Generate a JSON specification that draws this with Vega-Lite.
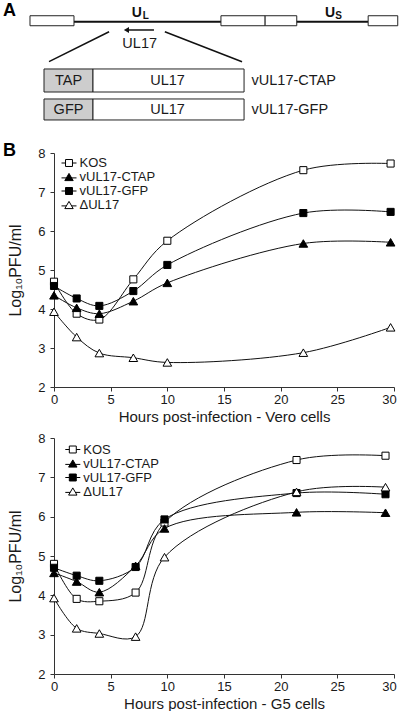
{
  "$schema": "https://vega.github.io/schema/vega-lite/v6.json",
  "padding": {"left": 2, "top": 1, "right": 0, "bottom": 0},
  "bounds": "flush",
  "spacing": 51,
  "config": {
    "font": "Liberation Sans",
    "view": {"stroke": null},
    "axis": {"grid": false, "domainColor": "#333333", "tickColor": "#333333", "tickSize": 4, "domainWidth": 1, "tickWidth": 1, "labelFontSize": 13, "labelColor": "#1a1a1a", "titleFontWeight": "normal", "titleColor": "#1a1a1a", "labelOverlap": false},
    "axisX": {"labelPadding": 2, "titleFontSize": 15, "titlePadding": 3, "labelFlush": false},
    "axisY": {"labelPadding": 5, "titleFontSize": 16, "titlePadding": 14}
  },
  "resolve": {
    "scale": {"x": "independent", "y": "independent", "fill": "independent", "shape": "independent"},
    "legend": {"fill": "independent", "shape": "independent"}
  },
  "datasets": {
    "backbone": [{"region": "genome", "start": 5.88, "end": 92.35, "pos": 2.05}],
    "zoom_lines": [
      {"from_x": 16.2, "from_y": 3.04, "to_x": -1.47, "to_y": 6.01},
      {"from_x": 32.6, "from_y": 3.04, "to_x": 55.3, "to_y": 6.01}
    ],
    "repeats": [
      {"name": "TRL", "start": -7.06, "end": 5.88},
      {"name": "IRL", "start": 49.1, "end": 62.1},
      {"name": "IRS", "start": 62.1, "end": 71.4},
      {"name": "TRS", "start": 92.4, "end": 101.1}
    ],
    "constructs": [
      {"construct": "vUL17-CTAP", "part": "tag", "start": -2.94, "end": 11.47, "top": 6.73, "bottom": 9.01},
      {"construct": "vUL17-CTAP", "part": "UL17", "start": 11.47, "end": 55.9, "top": 6.73, "bottom": 9.01},
      {"construct": "vUL17-GFP", "part": "tag", "start": -2.94, "end": 11.47, "top": 9.7, "bottom": 11.78},
      {"construct": "vUL17-GFP", "part": "UL17", "start": 11.47, "end": 55.9, "top": 9.7, "bottom": 11.78}
    ],
    "arrow": [{"gene": "UL17", "tail": 29.4, "head": 21.3, "pos": 2.87}],
    "center_labels": [
      {"text": "UL17", "x": 25.2, "y": 4.21},
      {"text": "TAP", "x": 4.27, "y": 7.9},
      {"text": "UL17", "x": 33.4, "y": 7.9},
      {"text": "GFP", "x": 4.27, "y": 10.78},
      {"text": "UL17", "x": 33.4, "y": 10.78}
    ],
    "construct_names": [
      {"text": "vUL17-CTAP", "x": 58.1, "y": 7.9},
      {"text": "vUL17-GFP", "x": 58.1, "y": 10.78}
    ],
    "regions": [
      {"text": "U", "x": 24.35, "y": 1.22},
      {"text": "U", "x": 81.2, "y": 1.22}
    ],
    "region_subs": [
      {"text": "L", "x": 27.0, "y": 1.5},
      {"text": "S", "x": 83.7, "y": 1.52}
    ],
    "panel_letters": [
      {"panel": "A", "x": -13.1, "y": 0.99},
      {"panel": "B", "x": -13.1, "y": 14.85}
    ],
    "vero": [
      {"strain": "KOS", "hours": 0, "log_pfu": 4.70},
      {"strain": "KOS", "hours": 2, "log_pfu": 3.88},
      {"strain": "KOS", "hours": 4, "log_pfu": 3.73},
      {"strain": "KOS", "hours": 7, "log_pfu": 4.76},
      {"strain": "KOS", "hours": 10, "log_pfu": 5.75},
      {"strain": "KOS", "hours": 22, "log_pfu": 7.56},
      {"strain": "KOS", "hours": 29.7, "log_pfu": 7.73},
      {"strain": "vUL17-CTAP", "hours": 0, "log_pfu": 4.35},
      {"strain": "vUL17-CTAP", "hours": 2, "log_pfu": 4.03},
      {"strain": "vUL17-CTAP", "hours": 4, "log_pfu": 3.88},
      {"strain": "vUL17-CTAP", "hours": 7, "log_pfu": 4.20},
      {"strain": "vUL17-CTAP", "hours": 10, "log_pfu": 4.67},
      {"strain": "vUL17-CTAP", "hours": 22, "log_pfu": 5.68},
      {"strain": "vUL17-CTAP", "hours": 29.7, "log_pfu": 5.71},
      {"strain": "vUL17-GFP", "hours": 0, "log_pfu": 4.59},
      {"strain": "vUL17-GFP", "hours": 2, "log_pfu": 4.27},
      {"strain": "vUL17-GFP", "hours": 4, "log_pfu": 4.08},
      {"strain": "vUL17-GFP", "hours": 7, "log_pfu": 4.46},
      {"strain": "vUL17-GFP", "hours": 10, "log_pfu": 5.13},
      {"strain": "vUL17-GFP", "hours": 22, "log_pfu": 6.46},
      {"strain": "vUL17-GFP", "hours": 29.7, "log_pfu": 6.49},
      {"strain": "ΔUL17", "hours": 0, "log_pfu": 3.93},
      {"strain": "ΔUL17", "hours": 2, "log_pfu": 3.28},
      {"strain": "ΔUL17", "hours": 4, "log_pfu": 2.87},
      {"strain": "ΔUL17", "hours": 7, "log_pfu": 2.75},
      {"strain": "ΔUL17", "hours": 10, "log_pfu": 2.63},
      {"strain": "ΔUL17", "hours": 22, "log_pfu": 2.88},
      {"strain": "ΔUL17", "hours": 29.7, "log_pfu": 3.53}
    ],
    "g5": [
      {"strain": "KOS", "hours": 0, "log_pfu": 4.80},
      {"strain": "KOS", "hours": 2, "log_pfu": 3.91},
      {"strain": "KOS", "hours": 4, "log_pfu": 3.85},
      {"strain": "KOS", "hours": 7.2, "log_pfu": 4.07},
      {"strain": "KOS", "hours": 9.75, "log_pfu": 5.85},
      {"strain": "KOS", "hours": 21.4, "log_pfu": 7.44},
      {"strain": "KOS", "hours": 29.25, "log_pfu": 7.55},
      {"strain": "vUL17-CTAP", "hours": 0, "log_pfu": 4.57},
      {"strain": "vUL17-CTAP", "hours": 2, "log_pfu": 4.35},
      {"strain": "vUL17-CTAP", "hours": 4, "log_pfu": 4.08},
      {"strain": "vUL17-CTAP", "hours": 7.2, "log_pfu": 4.75},
      {"strain": "vUL17-CTAP", "hours": 9.75, "log_pfu": 5.70},
      {"strain": "vUL17-CTAP", "hours": 21.4, "log_pfu": 6.11},
      {"strain": "vUL17-CTAP", "hours": 29.25, "log_pfu": 6.10},
      {"strain": "vUL17-GFP", "hours": 0, "log_pfu": 4.70},
      {"strain": "vUL17-GFP", "hours": 2, "log_pfu": 4.50},
      {"strain": "vUL17-GFP", "hours": 4, "log_pfu": 4.37},
      {"strain": "vUL17-GFP", "hours": 7.2, "log_pfu": 4.72},
      {"strain": "vUL17-GFP", "hours": 9.75, "log_pfu": 5.93},
      {"strain": "vUL17-GFP", "hours": 21.4, "log_pfu": 6.60},
      {"strain": "vUL17-GFP", "hours": 29.25, "log_pfu": 6.57},
      {"strain": "ΔUL17", "hours": 0, "log_pfu": 3.93},
      {"strain": "ΔUL17", "hours": 2, "log_pfu": 3.16},
      {"strain": "ΔUL17", "hours": 4, "log_pfu": 3.03},
      {"strain": "ΔUL17", "hours": 7.2, "log_pfu": 2.95},
      {"strain": "ΔUL17", "hours": 9.75, "log_pfu": 4.97},
      {"strain": "ΔUL17", "hours": 21.4, "log_pfu": 6.63},
      {"strain": "ΔUL17", "hours": 29.25, "log_pfu": 6.75}
    ]
  },
  "vconcat": [
    {
      "width": 340,
      "height": 101,
      "layer": [
        {
          "data": {"name": "backbone"},
          "mark": {"type": "rule", "color": "#111111", "strokeWidth": 2},
          "encoding": {
            "x": {"field": "start", "type": "quantitative", "scale": {"domain": [0, 100], "nice": false, "zero": false}, "axis": null},
            "x2": {"field": "end"},
            "y": {"field": "pos", "type": "quantitative", "scale": {"domain": [0, 10], "nice": false, "zero": false, "reverse": true}, "axis": null}
          }
        },
        {
          "data": {"name": "zoom_lines"},
          "mark": {"type": "rule", "color": "#111111", "strokeWidth": 1.5},
          "encoding": {
            "x": {"field": "from_x", "type": "quantitative", "scale": {"domain": [0, 100], "nice": false, "zero": false}, "axis": null},
            "x2": {"field": "to_x"},
            "y": {"field": "from_y", "type": "quantitative", "scale": {"domain": [0, 10], "nice": false, "zero": false, "reverse": true}, "axis": null},
            "y2": {"field": "to_y"}
          }
        },
        {
          "data": {"name": "repeats"},
          "mark": {"type": "rect", "fill": "#ffffff", "stroke": "#222222", "strokeWidth": 1},
          "encoding": {
            "x": {"field": "start", "type": "quantitative", "scale": {"domain": [0, 100], "nice": false, "zero": false}, "axis": null},
            "x2": {"field": "end"},
            "y": {"datum": 1.46, "type": "quantitative", "scale": {"domain": [0, 10], "nice": false, "zero": false, "reverse": true}, "axis": null},
            "y2": {"datum": 2.45}
          }
        },
        {
          "data": {"name": "constructs"},
          "mark": {"type": "rect", "stroke": "#222222", "strokeWidth": 1},
          "encoding": {
            "x": {"field": "start", "type": "quantitative", "scale": {"domain": [0, 100], "nice": false, "zero": false}, "axis": null},
            "x2": {"field": "end"},
            "y": {"field": "top", "type": "quantitative", "scale": {"domain": [0, 10], "nice": false, "zero": false, "reverse": true}, "axis": null},
            "y2": {"field": "bottom"},
            "fill": {"field": "part", "type": "nominal", "scale": {"domain": ["tag", "UL17"], "range": ["#cdcdcd", "#ffffff"]}, "legend": null}
          }
        },
        {
          "data": {"name": "arrow"},
          "mark": {"type": "rule", "color": "#111111", "strokeWidth": 1.5},
          "encoding": {
            "x": {"field": "tail", "type": "quantitative", "scale": {"domain": [0, 100], "nice": false, "zero": false}, "axis": null},
            "x2": {"field": "head"},
            "y": {"field": "pos", "type": "quantitative", "scale": {"domain": [0, 10], "nice": false, "zero": false, "reverse": true}, "axis": null}
          }
        },
        {
          "data": {"name": "arrow"},
          "mark": {"type": "point", "shape": "triangle-left", "filled": true, "color": "#111111", "opacity": 1, "size": 36},
          "encoding": {
            "x": {"field": "head", "type": "quantitative", "scale": {"domain": [0, 100], "nice": false, "zero": false}, "axis": null},
            "y": {"field": "pos", "type": "quantitative", "scale": {"domain": [0, 10], "nice": false, "zero": false, "reverse": true}, "axis": null}
          }
        },
        {
          "data": {"name": "center_labels"},
          "mark": {"type": "text", "align": "center", "baseline": "middle", "fontSize": 14.5, "color": "#1a1a1a"},
          "encoding": {
            "x": {"field": "x", "type": "quantitative", "scale": {"domain": [0, 100], "nice": false, "zero": false}, "axis": null},
            "y": {"field": "y", "type": "quantitative", "scale": {"domain": [0, 10], "nice": false, "zero": false, "reverse": true}, "axis": null},
            "text": {"field": "text"}
          }
        },
        {
          "data": {"name": "construct_names"},
          "mark": {"type": "text", "align": "left", "baseline": "middle", "fontSize": 14.5, "color": "#1a1a1a"},
          "encoding": {
            "x": {"field": "x", "type": "quantitative", "scale": {"domain": [0, 100], "nice": false, "zero": false}, "axis": null},
            "y": {"field": "y", "type": "quantitative", "scale": {"domain": [0, 10], "nice": false, "zero": false, "reverse": true}, "axis": null},
            "text": {"field": "text"}
          }
        },
        {
          "data": {"name": "regions"},
          "mark": {"type": "text", "align": "center", "baseline": "middle", "fontSize": 14, "fontWeight": "bold", "color": "#111111"},
          "encoding": {
            "x": {"field": "x", "type": "quantitative", "scale": {"domain": [0, 100], "nice": false, "zero": false}, "axis": null},
            "y": {"field": "y", "type": "quantitative", "scale": {"domain": [0, 10], "nice": false, "zero": false, "reverse": true}, "axis": null},
            "text": {"field": "text"}
          }
        },
        {
          "data": {"name": "region_subs"},
          "mark": {"type": "text", "align": "center", "baseline": "middle", "fontSize": 10, "fontWeight": "bold", "color": "#111111"},
          "encoding": {
            "x": {"field": "x", "type": "quantitative", "scale": {"domain": [0, 100], "nice": false, "zero": false}, "axis": null},
            "y": {"field": "y", "type": "quantitative", "scale": {"domain": [0, 10], "nice": false, "zero": false, "reverse": true}, "axis": null},
            "text": {"field": "text"}
          }
        },
        {
          "data": {"name": "panel_letters"},
          "mark": {"type": "text", "align": "center", "baseline": "middle", "fontSize": 18, "fontWeight": "bold", "color": "#000000"},
          "encoding": {
            "x": {"field": "x", "type": "quantitative", "scale": {"domain": [0, 100], "nice": false, "zero": false}, "axis": null},
            "y": {"field": "y", "type": "quantitative", "scale": {"domain": [0, 10], "nice": false, "zero": false, "reverse": true}, "axis": null},
            "text": {"field": "panel"}
          }
        }
      ]
    },
    {
      "width": 340,
      "height": 234,
      "data": {"name": "vero"},
      "encoding": {
        "x": {"field": "hours", "type": "quantitative", "scale": {"domain": [0, 30], "nice": false, "zero": false}, "axis": {"title": "Hours post-infection - Vero cells", "values": [0, 5, 10, 15, 20, 25, 30], "labelOverlap": false, "encoding": {"labels": {"dx": {"condition": {"test": "datum.value === 30", "value": -5}, "value": 0}}}}},
        "y": {"field": "log_pfu", "type": "quantitative", "scale": {"domain": [2, 8], "nice": false, "zero": false}, "axis": {"title": "Log₁₀PFU/ml", "values": [2, 3, 4, 5, 6, 7, 8], "labelOverlap": false}}
      },
      "layer": [
        {
          "mark": {"type": "line", "interpolate": "catmull-rom", "color": "#111111", "strokeWidth": 1},
          "encoding": {"detail": {"field": "strain"}}
        },
        {
          "mark": {"type": "point", "stroke": "#000000", "strokeWidth": 1, "opacity": 1, "fillOpacity": 1},
          "encoding": {
            "shape": {"condition": {"test": "datum.strain === 'KOS' || datum.strain === 'vUL17-GFP'", "value": "square"}, "value": "triangle-up"},
            "size": {"condition": {"test": "datum.strain === 'KOS' || datum.strain === 'vUL17-GFP'", "value": 50}, "value": 75},
            "fill": {
              "field": "strain", "type": "nominal",
              "scale": {"domain": ["KOS", "vUL17-CTAP", "vUL17-GFP", "ΔUL17"], "range": ["#ffffff", "#000000", "#000000", "#ffffff"]},
              "legend": {
                "title": null, "orient": "none", "legendX": 8.5, "legendY": 3.5, "padding": 0,
                "labelFontSize": 13, "labelColor": "#1a1a1a", "labelOffset": 4, "rowPadding": -4.3, "symbolSize": 144,
                "encoding": {"symbols": {
                  "shape": {"condition": {"test": "datum.value === 'KOS' || datum.value === 'vUL17-GFP'", "value": "M-1.25,0H-0.58M0.58,0H1.25M-0.58,-0.58H0.58V0.58H-0.58Z"}, "value": "M-1.25,0.15H-0.44M0.44,0.15H1.25M0,-0.6L0.7,0.6H-0.7Z"},
                  "stroke": {"value": "#000000"},
                  "strokeWidth": {"value": 1},
                  "opacity": {"value": 1},
                  "size": {"value": 144}
                }}
              }
            }
          }
        }
      ]
    },
    {
      "width": 340,
      "height": 236,
      "data": {"name": "g5"},
      "encoding": {
        "x": {"field": "hours", "type": "quantitative", "scale": {"domain": [0, 30], "nice": false, "zero": false}, "axis": {"title": "Hours post-infection - G5 cells", "values": [0, 5, 10, 15, 20, 25, 30], "labelOverlap": false, "encoding": {"labels": {"dx": {"condition": {"test": "datum.value === 30", "value": -5}, "value": 0}}}}},
        "y": {"field": "log_pfu", "type": "quantitative", "scale": {"domain": [2, 8], "nice": false, "zero": false}, "axis": {"title": "Log₁₀PFU/ml", "values": [2, 3, 4, 5, 6, 7, 8], "labelOverlap": false}}
      },
      "layer": [
        {
          "mark": {"type": "line", "interpolate": "catmull-rom", "color": "#111111", "strokeWidth": 1},
          "encoding": {"detail": {"field": "strain"}}
        },
        {
          "mark": {"type": "point", "stroke": "#000000", "strokeWidth": 1, "opacity": 1, "fillOpacity": 1},
          "encoding": {
            "shape": {"condition": {"test": "datum.strain === 'KOS' || datum.strain === 'vUL17-GFP'", "value": "square"}, "value": "triangle-up"},
            "size": {"condition": {"test": "datum.strain === 'KOS' || datum.strain === 'vUL17-GFP'", "value": 50}, "value": 75},
            "fill": {
              "field": "strain", "type": "nominal",
              "scale": {"domain": ["KOS", "vUL17-CTAP", "vUL17-GFP", "ΔUL17"], "range": ["#ffffff", "#000000", "#000000", "#ffffff"]},
              "legend": {
                "title": null, "orient": "none", "legendX": 12.3, "legendY": 5, "padding": 0,
                "labelFontSize": 13, "labelColor": "#1a1a1a", "labelOffset": 4, "rowPadding": -6, "symbolSize": 144,
                "encoding": {"symbols": {
                  "shape": {"condition": {"test": "datum.value === 'KOS' || datum.value === 'vUL17-GFP'", "value": "M-1.25,0H-0.58M0.58,0H1.25M-0.58,-0.58H0.58V0.58H-0.58Z"}, "value": "M-1.25,0.15H-0.44M0.44,0.15H1.25M0,-0.6L0.7,0.6H-0.7Z"},
                  "stroke": {"value": "#000000"},
                  "strokeWidth": {"value": 1},
                  "opacity": {"value": 1},
                  "size": {"value": 144}
                }}
              }
            }
          }
        }
      ]
    }
  ]
}
